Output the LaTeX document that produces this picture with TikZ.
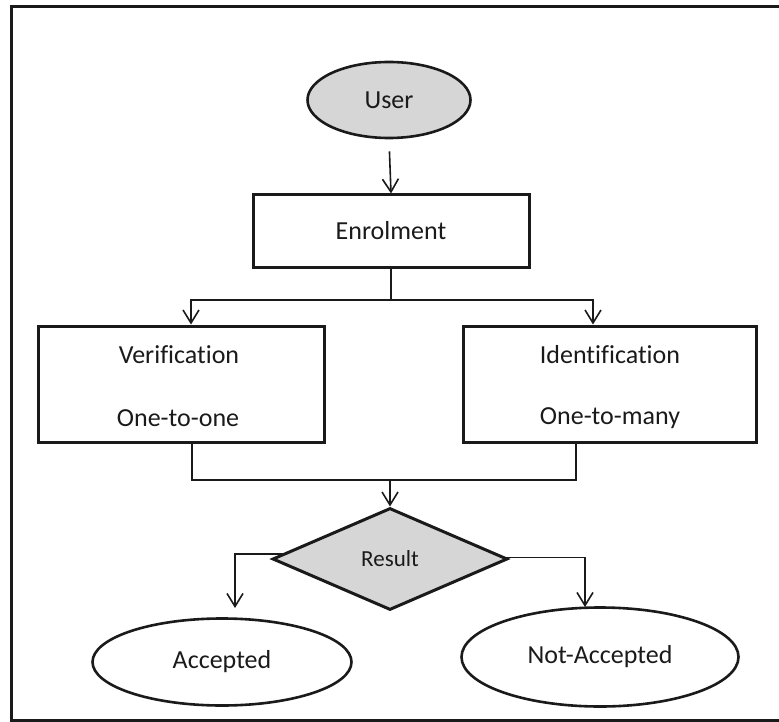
\documentclass[tikz,border=0pt]{standalone}
\usepackage{fontspec}
\setmainfont{Carlito}[Ligatures={NoCommon}]
\usetikzlibrary{shapes.geometric,arrows.meta,calc}

\definecolor{ink}{HTML}{1A1A1A}
\definecolor{shade}{HTML}{D6D6D6}

\tikzset{
  base/.style={draw=ink, text=ink, inner sep=0pt, font=\fontsize{26}{30}\selectfont},
  terminal/.style={base, ellipse, line width=2.6pt},
  procbox/.style={base, rectangle, line width=3pt},
  decision/.style={base, diamond, line width=3pt, fill=shade, aspect=2.3,
                   font=\fontsize{23}{27}\selectfont},
  label/.style={text=ink, inner sep=0pt, font=\fontsize{26}{30}\selectfont},
  link/.style={draw=ink, line width=1.6pt},
  arr/.style={link, -{Straight Barb[length=13pt, width=16pt, line width=1.6pt]}},
}

\begin{document}
\begin{tikzpicture}[x=1pt, y=-1pt]
  \useasboundingbox (0,0) rectangle (779,722);

  % open frame (no right edge)
  \draw[ink, line width=3pt] (779,6.5) -- (11,6.5) -- (11,720) -- (779,720);

  % nodes
  \node[terminal, fill=shade, minimum width=163pt, minimum height=76pt] (user) at (389,100) {User};
  \node[procbox, minimum width=276pt, minimum height=72pt] (enrol) at (391,231) {Enrolment};

  \node[procbox, minimum width=286pt, minimum height=116pt] (verif) at (181,384) {};
  \node[label] (vtitle) at (179,355) {Verification};
  \node[label] (vsub) at (178,418) {One-to-one};

  \node[procbox, minimum width=293pt, minimum height=116pt] (ident) at (609.5,384) {};
  \node[label] (ititle) at (610,355) {Identification};
  \node[label] (isub) at (610,418) {One-to-many};

  \node[decision, minimum width=235pt, minimum height=102pt] (result) at (390,559) {Result};

  \node[terminal, minimum width=259pt, minimum height=87pt] (acc) at (222,662) {Accepted};
  \node[terminal, minimum width=277pt, minimum height=99pt] (nacc) at (600,657) {Not-Accepted};

  % helper points for the connectors
  \coordinate (split) at (391,300);
  \coordinate (vin) at (191,300);
  \coordinate (iin) at (593,300);
  \coordinate (vout) at (192,442);
  \coordinate (iout) at (576,442);
  \coordinate (merge) at (390,480);
  \coordinate (accin) at (235,608);
  \coordinate (naccin) at (585,607);

  % connectors
  \draw[arr, shorten <=12pt] (user.south) -- (enrol.north);
  \draw[link] (enrol.south) -- (split);
  \draw[arr] (split) -- (vin) -- (vin |- verif.north);
  \draw[arr] (split) -- (iin) -- (iin |- ident.north);

  \draw[link] (vout) -- (vout |- merge) -- (iout |- merge) -- (iout);
  \draw[arr] (merge) -- (result.north);

  \draw[arr] ($(result.west)!0.1!(result.north)$) -| (accin);
  \draw[arr] ($(result.east)!0.03!(result.north)$) -| (naccin);
\end{tikzpicture}
\end{document}
